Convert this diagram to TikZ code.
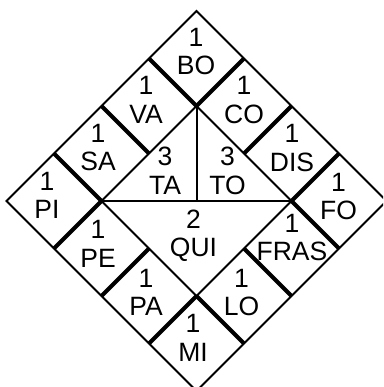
\documentclass[tikz,border=0pt]{standalone}
\usepackage{fontspec}
\setmainfont{Liberation Sans}
\begin{document}
\begin{tikzpicture}[x=1pt,y=-1pt,
  thinedge/.style={line width=2pt, line join=miter},
  thickedge/.style={line width=4pt},
  lbl/.style={align=center, inner sep=0pt, font=\fontsize{26.5}{28.5}\selectfont}]
\useasboundingbox (0,0) rectangle (383,387);
\clip (0,0) rectangle (383,387);
\foreach \a in {0,...,4} {
  \foreach \b in {0,...,4} {
    \coordinate (p\a\b) at ({6.5+47.5*(\a+\b)},{201-47.5*\a+47.5*\b});
  }
}
% outer diamond
\draw[thinedge] (p00) -- (p40) -- (p44) -- (p04) -- cycle;
% inner square and its divisions
\draw[thinedge] (p11) -- (p31) -- (p33) -- (p13) -- cycle;
\draw[thinedge] (p11) -- (p33);
\draw[thinedge] (p31) -- (p22);
% thick dividers between border cells
\draw[thickedge] (p10) -- (p11);
\draw[thickedge] (p20) -- (p21);
\draw[thickedge] (p30) -- (p31);
\draw[thickedge] (p41) -- (p31);
\draw[thickedge] (p42) -- (p32);
\draw[thickedge] (p43) -- (p33);
\draw[thickedge] (p34) -- (p33);
\draw[thickedge] (p24) -- (p23);
\draw[thickedge] (p14) -- (p13);
\draw[thickedge] (p03) -- (p13);
\draw[thickedge] (p02) -- (p12);
\draw[thickedge] (p01) -- (p11);
% labels
\node[lbl] (bo)   at (196,51.5)  {1\\BO};
\node[lbl] (va)   at (146,100)   {1\\VA};
\node[lbl] (co)   at (244,100)   {1\\CO};
\node[lbl] (sa)   at (98,147.5)  {1\\SA};
\node[lbl] (dis)  at (292,148)   {1\\DIS};
\node[lbl] (pi)   at (47,195.5)  {1\\PI};
\node[lbl] (fo)   at (338.5,196.5) {1\\FO};
\node[lbl] (ta)   at (165,170.8) {3\\TA};
\node[lbl] (to)   at (227.5,170.8) {3\\TO};
\node[lbl] (qui)  at (193.5,236) {2\\QUI};
\node[lbl] (pe)   at (98,244)    {1\\PE};
\node[lbl] (fras) at (292,237.5) {1\\FRAS};
\node[lbl] (pa)   at (146,292.5) {1\\PA};
\node[lbl] (lo)   at (241.5,292.5) {1\\LO};
\node[lbl] (mi)   at (193,338)   {1\\MI};
\end{tikzpicture}
\end{document}
